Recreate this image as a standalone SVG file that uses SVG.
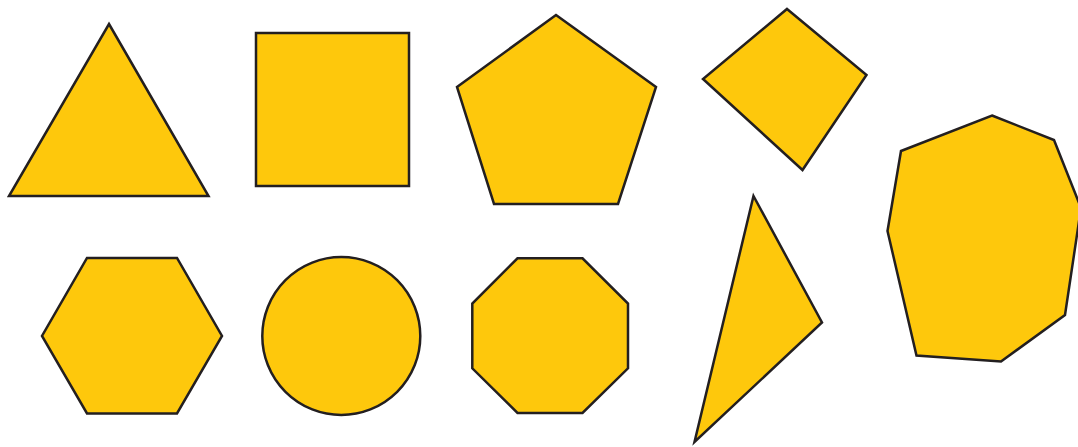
<svg xmlns="http://www.w3.org/2000/svg" width="1078" height="447" viewBox="0 0 1078 447">
<style>
.s{fill:#FEC80C;stroke:#231F20;stroke-width:2.5;stroke-linejoin:miter;stroke-miterlimit:10}
</style>
<rect width="1078" height="447" fill="#ffffff"/>
<polygon class="s" points="109,24 208.5,196 9,196"/>
<rect class="s" x="256" y="33" width="153" height="153"/>
<polygon class="s" points="556,15 656,87 618,204 494,204 457,87"/>
<polygon class="s" points="787,9 866.5,75 802.5,170 703,79"/>
<polygon class="s" points="992,115.5 1054,140 1081,208 1065,315 1001,361.5 916.5,355.5 887.5,231 901,151"/>
<polygon class="s" points="87,258 177,258 222,336 177,413.5 87,413.5 42,336"/>
<circle class="s" cx="341.3" cy="336" r="79"/>
<polygon class="s" points="517.5,258.3 582.5,258.3 628,303.5 628,368.3 582.5,413 517.5,413 472.3,368.3 472.3,303.5"/>
<polygon class="s" points="753.5,196 822,322.5 694.5,442"/>
</svg>
